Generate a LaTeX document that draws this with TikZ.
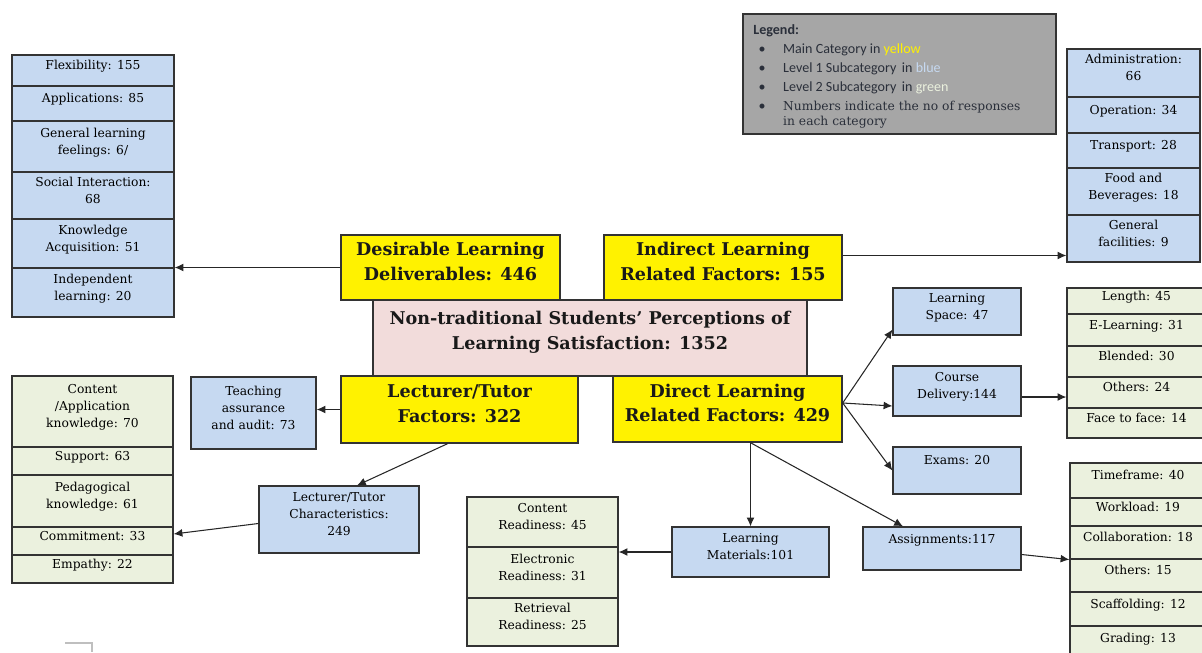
\documentclass[tikz,border=0pt]{standalone}
\usepackage{fontspec}
\setmainfont{DejaVu Serif}
\newfontfamily\legendfont{Carlito}
\usetikzlibrary{arrows.meta,positioning}

\definecolor{bluefill}{HTML}{C6D9F1}
\definecolor{greenfill}{HTML}{EBF1DE}
\definecolor{pinkfill}{HTML}{F2DCDB}
\definecolor{legendgray}{HTML}{A6A6A6}
\definecolor{legendtext}{HTML}{2A2F3A}

\newlength\pxl
\setlength\pxl{0.02cm}
\newcommand{\smallboxfont}{\fontsize{7}{9.6}\selectfont}
\newcommand{\bigboxfont}{\fontsize{10}{14}\selectfont\bfseries}

\tikzset{
  cell/.style={draw=black!80, line width=0.7pt, inner sep=0pt, align=center,
    font=\smallboxfont, text=black, text depth=6pt},
  bluecell/.style={cell, fill=bluefill},
  greencell/.style={cell, fill=greenfill},
  mainbox/.style={draw=black!80, line width=0.8pt, inner sep=0pt, align=center,
    font=\bigboxfont, text=black!90, text depth=7pt, fill=yellow},
  arr/.style={-{Latex[length=5pt,width=4.5pt]}, line width=0.6pt, draw=black!85}
}

\begin{document}
\begin{tikzpicture}[x=0.02cm, y=-0.02cm]
\useasboundingbox (0,0) rectangle (1202,652);

% legend
\node[draw=black!80, line width=0.8pt, fill=legendgray, minimum width=313\pxl,
  minimum height=120\pxl, inner sep=0pt] (legend) at (899.5,74) {};
\node[anchor=north west, inner sep=0pt, align=left, text=legendtext,
  font=\legendfont\fontsize{8}{10.8}\selectfont] (legtext) at (753,21) {%
  \begin{tabular}{@{}p{17pt}@{}l@{}}
  \multicolumn{2}{@{}l}{\bfseries Legend:}\\
  \hspace*{3pt}\textbullet & Main Category in \textcolor{yellow}{yellow}\\
  \hspace*{3pt}\textbullet & Level 1 Subcategory\, in \textcolor{bluefill}{blue}\\
  \hspace*{3pt}\textbullet & Level 2 Subcategory\, in \textcolor{greenfill}{green}\\
  \hspace*{3pt}\textbullet & {\rmfamily\fontsize{7}{9}\selectfont Numbers indicate the no of responses}\\[-2pt]
   & {\rmfamily\fontsize{7}{9}\selectfont in each category}
  \end{tabular}};

% left column, blue
\foreach \n/\ya/\yb/\t in {flex/55/86/{Flexibility: 155}, appl/86/121/{Applications: 85},
    genl/121/172/{General learning\\feelings: 6/}, soci/172/219/{Social Interaction:\\68},
    know/219/268/{Knowledge\\Acquisition: 51}, inde/268/317/{Independent\\learning: 20}}
  \node[bluecell, minimum width=162\pxl, minimum height={(\yb-\ya)*0.02cm}]
    (\n) at (93,{(\ya+\yb)/2}) {\t};

% right column, blue
\foreach \n/\ya/\yb/\t in {admn/49/97/{Administration:\\66}, oper/97/133/{Operation: 34},
    tran/133/168/{Transport: 28}, food/168/215/{Food and\\Beverages: 18},
    genf/215/262/{General\\facilities: 9}}
  \node[bluecell, minimum width=133\pxl, minimum height={(\yb-\ya)*0.02cm}]
    (\n) at (1133.5,{(\ya+\yb)/2}) {\t};

% course delivery column, green
\foreach \n/\ya/\yb/\t in {leng/288/314/{Length: 45}, elea/314/346/{E-Learning: 31},
    blen/346/377/{Blended: 30}, otha/377/408/{Others: 24}, face/408/438/{Face to face: 14}}
  \node[greencell, minimum width=139\pxl, minimum height={(\yb-\ya)*0.02cm}]
    (\n) at (1136.5,{(\ya+\yb)/2}) {\t};

% assignments column, green
\foreach \n/\ya/\yb/\t in {time/463/498/{Timeframe: 40}, work/498/526/{Workload: 19},
    coll/526/559/{Collaboration: 18}, othb/559/592/{Others: 15},
    scaf/592/626/{Scaffolding: 12}, grad/626/660/{Grading: 13}}
  \node[greencell, minimum width=136\pxl, minimum height={(\yb-\ya)*0.02cm}]
    (\n) at (1138,{(\ya+\yb)/2}) {\t};

% lecturer characteristics column, green
\foreach \n/\ya/\yb/\t in {capp/376/447/{Content\\/Application\\knowledge: 70},
    supp/447/475/{Support: 63}, peda/475/527/{Pedagogical\\knowledge: 61},
    comm/527/555/{Commitment: 33}, empa/555/583/{Empathy: 22}}
  \node[greencell, minimum width=161\pxl, minimum height={(\yb-\ya)*0.02cm}]
    (\n) at (92.5,{(\ya+\yb)/2}) {\t};

% readiness column, green
\foreach \n/\ya/\yb/\t in {cont/497/547/{Content\\Readiness: 45},
    elec/547/598/{Electronic\\Readiness: 31}, retr/598/646/{Retrieval\\Readiness: 25}}
  \node[greencell, minimum width=151\pxl, minimum height={(\yb-\ya)*0.02cm}]
    (\n) at (542.5,{(\ya+\yb)/2}) {\t};

% level 1 boxes
\node[bluecell, minimum width=128\pxl, minimum height=47\pxl] (ls) at (957,311.5) {Learning\\Space: 47};
\node[bluecell, minimum width=128\pxl, minimum height=50\pxl] (cd) at (957,391) {Course\\Delivery:144};
\node[bluecell, minimum width=128\pxl, minimum height=47\pxl, text depth=12pt] (ex) at (957,470.5) {Exams: 20};
\node[bluecell, minimum width=158\pxl, minimum height=43\pxl, text depth=11pt] (asg) at (942,548.5) {Assignments:117};
\node[bluecell, minimum width=157\pxl, minimum height=50\pxl] (lm) at (750.5,552) {Learning\\Materials:101};
\node[bluecell, minimum width=125\pxl, minimum height=72\pxl] (teach) at (253.5,413) {Teaching\\assurance\\and audit: 73};
\node[bluecell, minimum width=160\pxl, minimum height=67\pxl] (char) at (339,519.5) {Lecturer/Tutor\\Characteristics:\\249};

% main categories
\node[mainbox, fill=pinkfill, minimum width=434\pxl, minimum height=76\pxl, text depth=9pt] (cen) at (590,338)
  {Non-traditional Students' Perceptions of\\Learning Satisfaction: 1352};
\node[mainbox, minimum width=219\pxl, minimum height=65\pxl] (des) at (450.5,267.5) {Desirable Learning\\Deliverables: 446};
\node[mainbox, minimum width=238\pxl, minimum height=65\pxl] (ind) at (723,267.5) {Indirect Learning\\Related Factors: 155};
\node[mainbox, minimum width=237\pxl, minimum height=67\pxl] (lec) at (459.5,409.5) {Lecturer/Tutor\\Factors: 322};
\node[mainbox, minimum width=229\pxl, minimum height=66\pxl] (dir) at (727.5,409) {Direct Learning\\Related Factors: 429};

% connectors
\coordinate (indout) at ([yshift=12\pxl]ind.east);
\coordinate (dirout) at ([yshift=6\pxl]dir.east);
\coordinate (cdout) at ([yshift=-6\pxl]cd.east);
\coordinate (asgout) at ([yshift=-6\pxl]asg.east);
\coordinate (dirdown) at (dir.south -| lm.north);
\draw[arr] (des.west) -- (des.west -| know.east);
\draw[arr] (indout) -- (indout -| genf.west);
\draw[arr] (dirout) -- ([yshift=6\pxl]ls.south west);
\draw[arr] (dirout) -- ([yshift=-15\pxl]cd.west);
\draw[arr] (dirout) -- (ex.west);
\draw[arr] (cdout) -- (cdout -| otha.west);
\draw[arr] (asgout) -- (coll.south west);
\draw[arr] (dirdown) -- (lm.north);
\draw[arr] (dirdown) -- ([xshift=-39\pxl]asg.north);
\draw[arr] (lm.west) -- (lm.west -| elec.east);
\draw[arr] (lec.west) -- (lec.west -| teach.east);
\draw[arr] ([xshift=-12\pxl]lec.south) -- ([xshift=18\pxl]char.north);
\draw[arr] ([yshift=-4\pxl]char.west) -- ([yshift=7\pxl]comm.east);

% corner mark
\draw[gray!50, line width=0.6pt] (65,643) -- (92,643) -- (92,652);
\end{tikzpicture}
\end{document}
